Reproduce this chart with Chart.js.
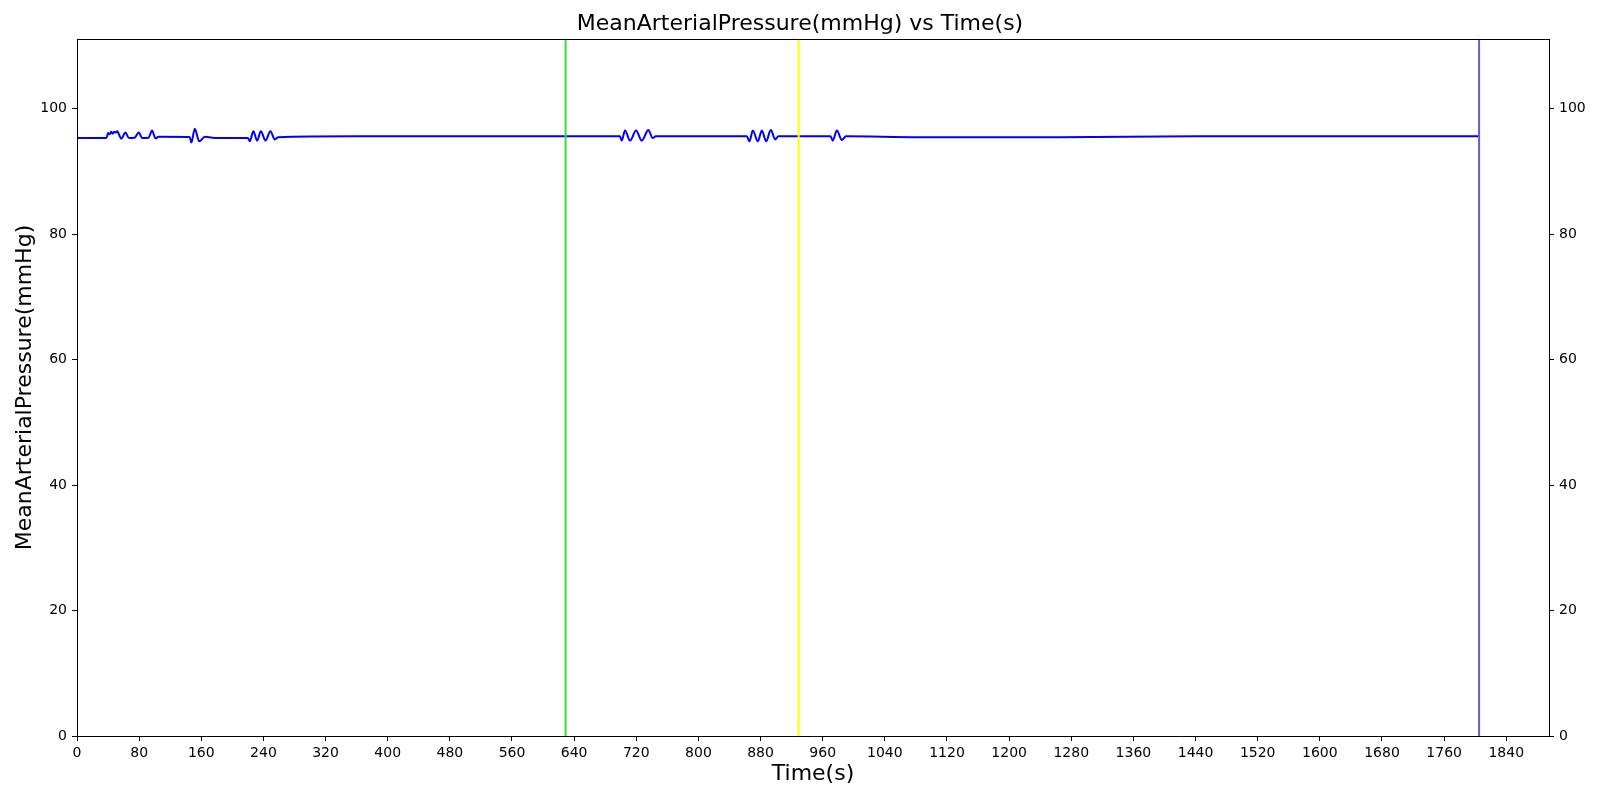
<!DOCTYPE html>
<html>
<head>
<meta charset="utf-8">
<script src="https://cdn.jsdelivr.net/npm/chart.js@4/dist/chart.umd.min.js"></script>
<style>
body{margin:0;background:#fff}
</style>
</head>
<body>
<canvas id="mapChart" width="1600" height="800"></canvas>
<script>
// time (s) and mean arterial pressure (mmHg)
const times=[0,38,40,42,44,46,48,50,52,54,57,62.3,67,74,79.5,84,92,96.6,101,105,145,147.3,151.6,157.3,164.6,180,220,222.5,227,232,236.6,242.7,249,254.7,259,360,699,701.3,705.5,712,719.7,727,735.6,741,745,862.3,865.7,870,876.5,881.6,887.2,893.2,898.8,903,970,973,978.2,984.7,990,1083,1265,1440,1805]
const pressure=[95.33,95.33,96.1,95.9,96.3,96.0,96.3,96.2,96.4,95.9,95.2,96.2,95.3,95.35,96.2,95.3,95.35,96.5,95.25,95.5,95.48,94.6,96.8,94.8,95.5,95.33,95.33,94.8,96.4,94.9,96.4,94.9,96.4,95.1,95.45,95.58,95.58,94.9,96.5,94.9,96.5,94.9,96.6,95.3,95.58,95.58,94.8,96.5,94.8,96.5,94.8,96.6,95.1,95.58,95.58,94.9,96.5,95.0,95.58,95.45,95.45,95.58,95.58]

// event markers (vertical lines)
const markerTimes=[629,929,1805]
const markerColors=["#33e033","#ffff00","#6a5acd"]

const xTicks=[0,80,160,240,320,400,480,560,640,720,800,880,960,1040,1120,1200,1280,1360,1440,1520,1600,1680,1760,1840]
const yTicks=[0,20,40,60,80,100]
const xMax=1895
const yMax=111.1

Chart.defaults.font.family="DejaVu Sans"
Chart.defaults.color="#000"

const datasets=[{
data:times.map((t,i)=>({x:t,y:pressure[i]})),
borderColor:"#0000ff",borderWidth:2,pointRadius:0,cubicInterpolationMode:"monotone",order:1
}]
markerTimes.forEach((t,i)=>{
datasets.push({data:[{x:t,y:0},{x:t,y:yMax}],borderColor:markerColors[i],borderWidth:2,pointRadius:0,order:0})
})

// top edge of the axes frame
const frame={
id:"frame",
afterDraw(chart){
const a=chart.chartArea,ctx=chart.ctx
const y=Math.round(a.top)+0.5
ctx.save()
ctx.strokeStyle="#000"
ctx.lineWidth=1
ctx.beginPath()
ctx.moveTo(a.left,y)
ctx.lineTo(a.right,y)
ctx.stroke()
ctx.restore()
}
}

const tickGrid={drawOnChartArea:false,tickLength:5,color:"#000"}
const plain=v=>String(v)

new Chart(document.getElementById("mapChart"),{
type:"line",
data:{datasets},
plugins:[frame],
options:{
responsive:false,animation:false,devicePixelRatio:1,
layout:{padding:0},
plugins:{
legend:{display:false},tooltip:{enabled:false},
title:{display:true,text:"MeanArterialPressure(mmHg) vs Time(s)",font:{size:22,weight:"normal"},color:"#000",padding:{top:11,bottom:1.6}}
},
scales:{
x:{type:"linear",position:"bottom",min:0,max:xMax,
afterBuildTicks(s){s.ticks=xTicks.map(v=>({value:v}))},
afterFit(s){s.height=64},
ticks:{font:{size:14},color:"#000",padding:4,maxRotation:0,autoSkip:false,callback:plain},
grid:tickGrid,border:{color:"#000",width:1},
title:{display:true,text:"Time(s)",font:{size:22},color:"#000",padding:{top:0,bottom:13}}
},
y:{type:"linear",position:"left",min:0,max:yMax,
afterBuildTicks(s){s.ticks=yTicks.map(v=>({value:v}))},
afterFit(s){s.width=77},
ticks:{font:{size:14},color:"#000",padding:5,callback:plain},
grid:tickGrid,border:{color:"#000",width:1},
title:{display:true,text:"MeanArterialPressure(mmHg)",font:{size:22},color:"#000",padding:{top:12,bottom:0}}
},
y2:{type:"linear",position:"right",min:0,max:yMax,
afterBuildTicks(s){s.ticks=yTicks.map(v=>({value:v}))},
afterFit(s){s.width=51},
ticks:{font:{size:14},color:"#000",padding:5,callback:plain},
grid:tickGrid,border:{color:"#000",width:1}
}
}
}
})
</script>
</body>
</html>
